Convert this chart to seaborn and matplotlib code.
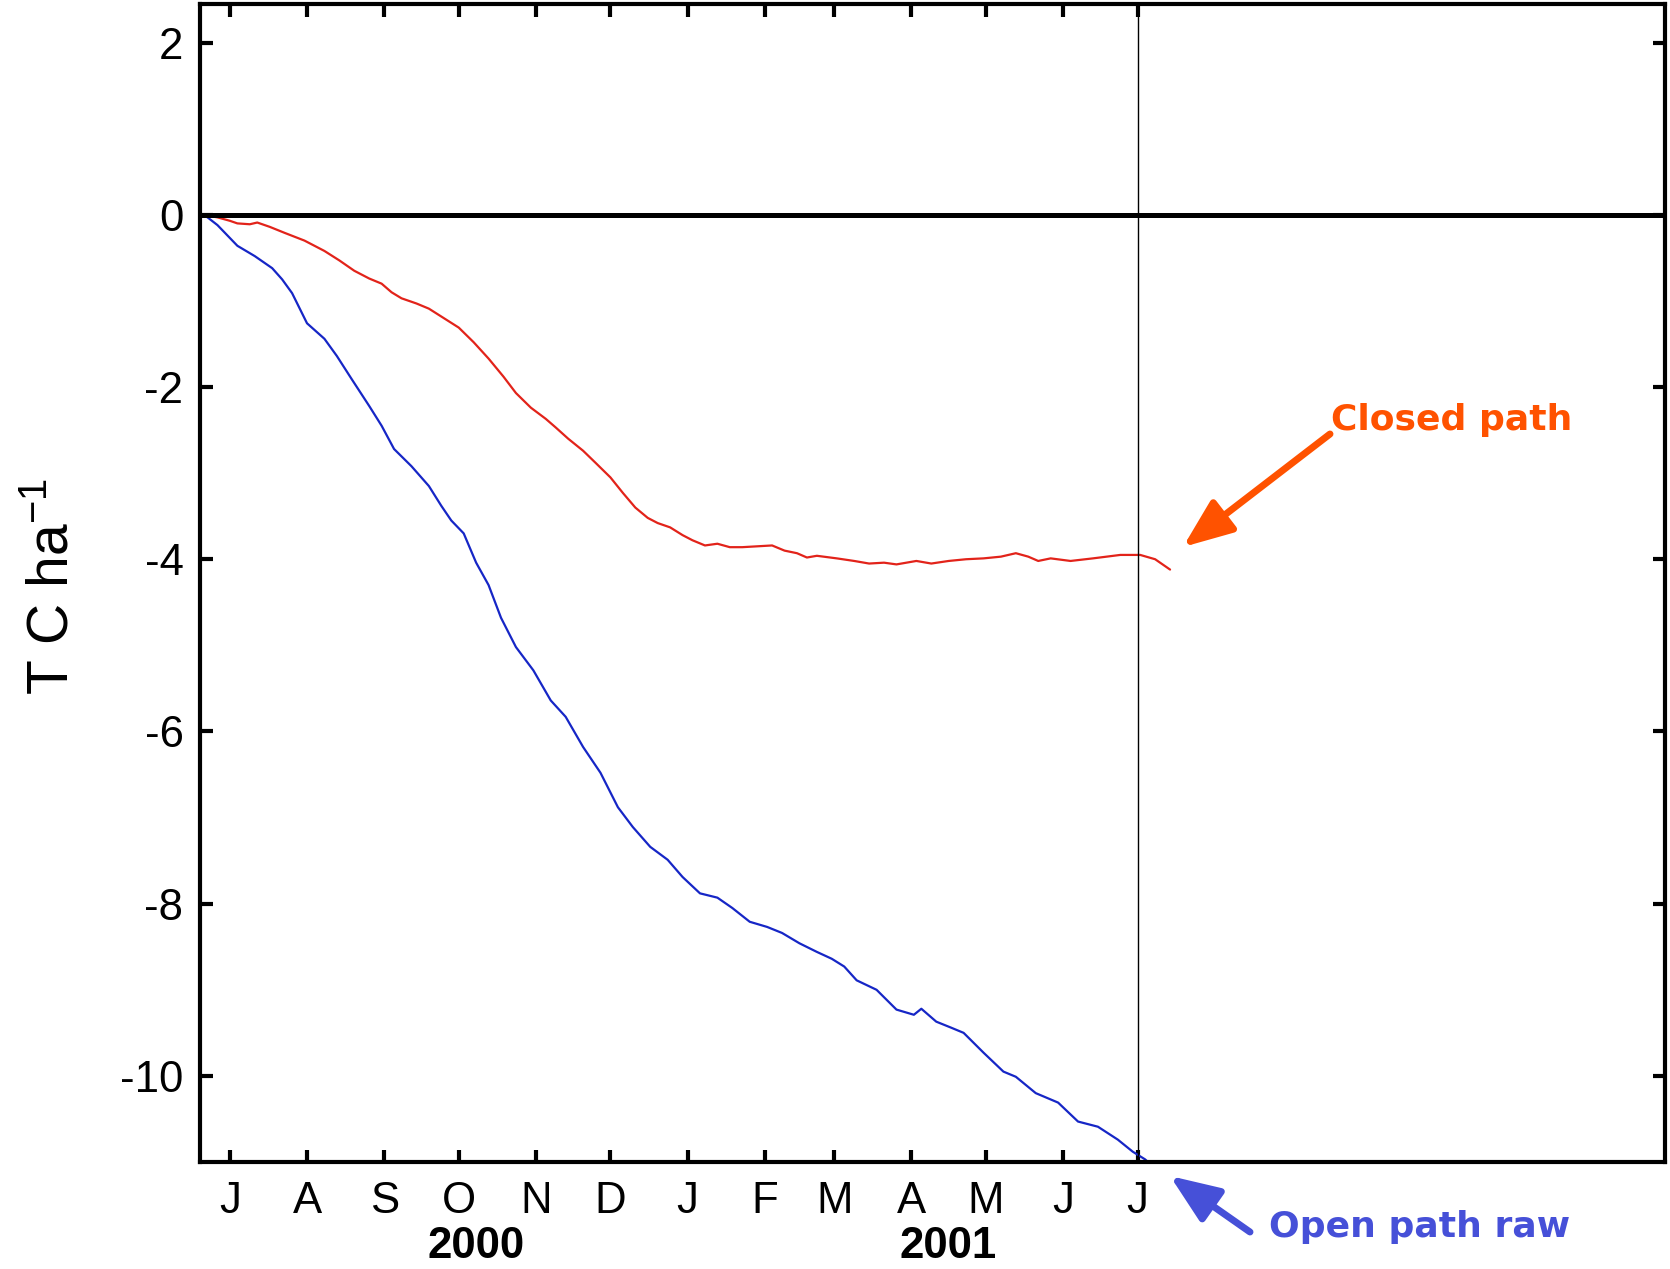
import numpy as np
import pandas as pd
import matplotlib
matplotlib.use("Agg")
import matplotlib.pyplot as plt
import seaborn as sns

# ---------------- data (days since 2000-07-01, T C ha-1) ----------------
closed_days = [-11, -5, 0, 3, 8, 11, 16, 22, 30, 38, 44, 50, 56, 61, 65, 69, 75, 80,
               86, 92, 98, 104, 110, 115, 121, 127, 131, 136, 142, 147, 153, 158,
               163, 168, 172, 177, 182, 186, 191, 196, 201, 206, 212, 218, 223, 228,
               232, 236, 244, 251, 257, 263, 268, 276, 282, 289, 296, 303, 310, 316,
               321, 325, 330, 338, 347, 358, 366, 372, 378]
closed_vals = [0.0, -0.03, -0.07, -0.10, -0.11, -0.09, -0.14, -0.21, -0.30, -0.42,
               -0.53, -0.65, -0.74, -0.80, -0.90, -0.97, -1.03, -1.09, -1.20, -1.31,
               -1.48, -1.67, -1.88, -2.07, -2.24, -2.37, -2.47, -2.60, -2.74, -2.88,
               -3.05, -3.23, -3.40, -3.52, -3.58, -3.63, -3.72, -3.78, -3.84, -3.82,
               -3.86, -3.86, -3.85, -3.84, -3.90, -3.93, -3.98, -3.96, -3.99, -4.02,
               -4.05, -4.04, -4.06, -4.02, -4.05, -4.02, -4.00, -3.99, -3.97, -3.93,
               -3.97, -4.02, -3.99, -4.02, -3.99, -3.95, -3.95, -4.00, -4.12]

open_days = [-11, -9, -5, -2, 3, 10, 17, 21, 25, 31, 38, 43, 49, 56, 61, 66, 73, 80,
             85, 89, 94, 99, 104, 109, 115, 122, 129, 135, 142, 149, 156, 162, 169,
             176, 182, 189, 196, 202, 209, 216, 222, 229, 236, 242, 247, 252, 260,
             268, 275, 278, 284, 290, 295, 303, 311, 316, 324, 333, 341, 349, 357,
             363, 368, 371]
open_vals = [0.0, -0.03, -0.12, -0.21, -0.36, -0.48, -0.62, -0.75, -0.91, -1.26,
             -1.44, -1.64, -1.91, -2.22, -2.45, -2.72, -2.92, -3.15, -3.38, -3.55,
             -3.70, -4.04, -4.30, -4.68, -5.02, -5.29, -5.64, -5.83, -6.18, -6.48,
             -6.88, -7.11, -7.34, -7.49, -7.69, -7.88, -7.93, -8.05, -8.21, -8.27,
             -8.34, -8.46, -8.56, -8.64, -8.73, -8.89, -9.00, -9.23, -9.29, -9.22,
             -9.37, -9.44, -9.50, -9.73, -9.95, -10.01, -10.20, -10.31, -10.53,
             -10.59, -10.74, -10.88, -10.97, -11.05]

month_labels = ["J", "A", "S", "O", "N", "D", "J", "F", "M", "A", "M", "J", "J"]
year_labels = ["2000", "2001"]
y_ticks = [2, 0, -2, -4, -6, -8, -10]
origin = pd.Timestamp("2000-07-01")

# ---------------- build frames ----------------
closed = pd.DataFrame({"date": origin + pd.to_timedelta(closed_days, unit="D"),
                       "value": closed_vals})
opn = pd.DataFrame({"date": origin + pd.to_timedelta(open_days, unit="D"),
                    "value": open_vals})

sns.set_style("ticks")
plt.rcParams["font.family"] = ["Liberation Sans", "DejaVu Sans"]
plt.rcParams["axes.unicode_minus"] = False
plt.rcParams["mathtext.default"] = "regular"
plt.rcParams["text.color"] = "black"
plt.rcParams["xtick.labelcolor"] = "black"
plt.rcParams["ytick.labelcolor"] = "black"

fig = plt.figure(figsize=(16.7, 12.69), dpi=100)
ax = fig.add_axes([0.1198, 0.0843, 0.997 - 0.1198, 0.997 - 0.0843])

sns.lineplot(data=closed, x="date", y="value", color="#E2231A", lw=1.6, ax=ax)
sns.lineplot(data=opn, x="date", y="value", color="#1626C6", lw=1.6, ax=ax)

ax.axhline(0, color="black", lw=3.6, zorder=3)
ax.axvline(pd.Timestamp("2001-07-01"), color="black", lw=1.0, zorder=3)

ax.set_xlim(origin - pd.Timedelta(days=12), origin + pd.Timedelta(days=577))
ax.set_ylim(-11, 2.45)

month_ticks = pd.date_range("2000-07-01", "2001-07-01", freq="MS")
ax.set_xticks(month_ticks)
ax.set_xticklabels(month_labels)
ax.set_yticks(y_ticks)
ax.set_yticklabels([str(t) for t in y_ticks])

ax.tick_params(axis="both", direction="in", length=9, width=3, labelsize=31.5,
               top=True, right=True, labeltop=False, labelright=False, colors="black")
ax.tick_params(axis="x", pad=14)
ax.tick_params(axis="y", pad=12)
for s in ax.spines.values():
    s.set_linewidth(3)
    s.set_color("black")

ax.set_xlabel("")
ax.set_ylabel("")
fig.text(80 / 1670, 1 - 586 / 1269, "T C ha$^{-1}$", fontsize=41, rotation=90,
         ha="right", va="center", color="black")

# year labels
fig.text(0.285, 0.018, year_labels[0], fontsize=31.5, fontweight="bold",
         ha="center", va="center", color="black")
fig.text(0.568, 0.018, year_labels[1], fontsize=31.5, fontweight="bold",
         ha="center", va="center", color="black")

# annotations
orange = "#FF5200"
blue = "#4650D8"
fig.text(1331 / 1670, 1 - 420 / 1269, "Closed path", color=orange, fontsize=26,
         fontweight="bold", family="DejaVu Sans", ha="left", va="center")
ax.annotate("", xy=(1183 / 1670, 1 - 547 / 1269), xycoords="figure fraction",
            xytext=(1330 / 1670, 1 - 434 / 1269), textcoords="figure fraction",
            arrowprops=dict(arrowstyle="-|>,head_length=1.0,head_width=0.4",
                            mutation_scale=30, lw=5, color=orange,
                            shrinkA=0, shrinkB=0),
            annotation_clip=False)

fig.text(1269 / 1670, 1 - 1227 / 1269, "Open path raw", color=blue, fontsize=26,
         fontweight="bold", family="DejaVu Sans", ha="left", va="center")
ax.annotate("", xy=(1170 / 1670, 1 - 1176 / 1269), xycoords="figure fraction",
            xytext=(1250 / 1670, 1 - 1232 / 1269), textcoords="figure fraction",
            arrowprops=dict(arrowstyle="-|>,head_length=1.0,head_width=0.4",
                            mutation_scale=30, lw=5, color=blue,
                            shrinkA=0, shrinkB=0),
            annotation_clip=False)

fig.savefig("out.png", dpi=100)
